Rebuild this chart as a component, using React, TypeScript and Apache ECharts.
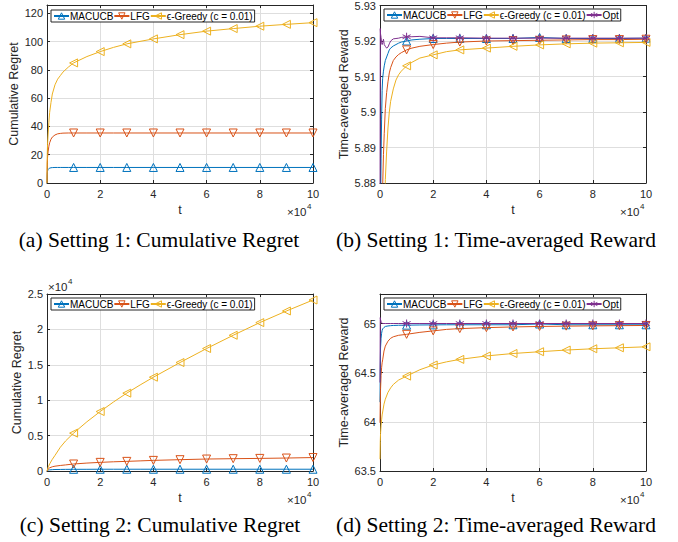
import React, { useEffect, useRef } from "react";
import * as echarts from "echarts";

// ---------- data ----------
const seriesNames = ["MACUCB", "LFG", "ϵ-Greedy (c = 0.01)", "Opt"];
const xTicks = [0, 2, 4, 6, 8, 10];

// (a) Setting 1: Cumulative Regret
const tA = [0, 0.005, 0.01, 0.02, 0.04, 0.07, 0.1, 0.15, 0.2, 0.3, 0.4, 0.5, 0.6, 0.8, 1, 1.5, 2, 2.5, 3, 4, 5, 6, 7, 8, 9, 10];
const regA_macucb = [0, 5, 7, 8.5, 9.6, 10.2, 10.5, 10.8, 10.9, 11, 11, 11, 11, 11, 11, 11, 11, 11, 11, 11, 11, 11, 11, 11, 11, 11];
const regA_lfg = [0, 9, 14, 18, 22, 26, 28.5, 31, 32.5, 34, 34.8, 35.1, 35.3, 35.4, 35.4, 35.4, 35.4, 35.4, 35.4, 35.4, 35.4, 35.4, 35.4, 35.4, 35.4, 35.4];
const regA_greedy = [0, 15, 21, 27, 34, 43, 50, 57, 63, 69.5, 73.5, 76, 78.5, 82, 85, 89.5, 93, 96, 98.5, 102, 105, 107.5, 109.3, 111, 112.3, 113.5];

// (b) Setting 1: Time-averaged Reward
const tB = [0, 0.01, 0.02, 0.04, 0.06, 0.08, 0.1, 0.13, 0.16, 0.2, 0.25, 0.3, 0.35, 0.4, 0.5, 0.6, 0.7, 0.8, 1, 1.2, 1.5, 2, 2.5, 3, 4, 5, 6, 7, 8, 9, 10];
const rewB_macucb = [5.84, 5.855, 5.872, 5.887, 5.898, 5.906, 5.9095, 5.9115, 5.913, 5.9145, 5.9155, 5.9165, 5.9175, 5.918, 5.9186, 5.919, 5.9194, 5.9197, 5.92, 5.9203, 5.9205, 5.9207, 5.9207, 5.9207, 5.9207, 5.9207, 5.921, 5.9207, 5.9207, 5.9207, 5.9208];
const rewB_lfg = [5.83, 5.838, 5.846, 5.857, 5.866, 5.873, 5.879, 5.888, 5.894, 5.901, 5.9055, 5.9085, 5.911, 5.9125, 5.9145, 5.9155, 5.9162, 5.9167, 5.9175, 5.918, 5.9185, 5.919, 5.9194, 5.9197, 5.92, 5.9201, 5.9202, 5.9203, 5.9204, 5.9204, 5.9205];
const rewB_greedy = [5.7, 5.72, 5.74, 5.77, 5.795, 5.815, 5.83, 5.85, 5.866, 5.881, 5.889, 5.8955, 5.9, 5.903, 5.9065, 5.909, 5.9105, 5.9115, 5.913, 5.914, 5.9152, 5.9161, 5.917, 5.9175, 5.918, 5.9185, 5.9189, 5.9192, 5.9194, 5.9195, 5.9196];
const rewB_opt = [5.86, 5.9235, 5.922, 5.921, 5.9195, 5.919, 5.9195, 5.9205, 5.919, 5.9185, 5.918, 5.9183, 5.9192, 5.92, 5.9206, 5.9207, 5.9208, 5.921, 5.9212, 5.9212, 5.9213, 5.9209, 5.9209, 5.9209, 5.9208, 5.9208, 5.9208, 5.9208, 5.9208, 5.9208, 5.9208];

// (c) Setting 2: Cumulative Regret (x10^4)
const tC = [0, 0.05, 0.1, 0.2, 0.3, 0.5, 0.7, 1, 1.5, 2, 2.5, 3, 3.5, 4, 5, 6, 7, 8, 9, 10];
const regC_macucb = [0, 0.012, 0.016, 0.019, 0.021, 0.022, 0.023, 0.024, 0.024, 0.025, 0.025, 0.025, 0.025, 0.025, 0.025, 0.025, 0.025, 0.025, 0.025, 0.025];
const regC_lfg = [0, 0.03, 0.045, 0.06, 0.068, 0.078, 0.086, 0.099, 0.112, 0.122, 0.13, 0.136, 0.143, 0.15, 0.16, 0.169, 0.174, 0.178, 0.183, 0.19];
const regC_greedy = [0, 0.06, 0.1, 0.165, 0.22, 0.335, 0.425, 0.535, 0.695, 0.84, 0.975, 1.1, 1.215, 1.325, 1.532, 1.73, 1.917, 2.096, 2.26, 2.415];

// (d) Setting 2: Time-averaged Reward
const tD = [0, 0.01, 0.02, 0.04, 0.06, 0.08, 0.1, 0.15, 0.2, 0.3, 0.4, 0.5, 0.7, 1, 1.5, 2, 2.5, 3, 4, 5, 6, 7, 8, 9, 10];
const rewD_macucb = [64.2, 64.55, 64.75, 64.85, 64.9, 64.93, 64.945, 64.96, 64.97, 64.975, 64.978, 64.98, 64.982, 64.983, 64.985, 64.986, 64.987, 64.987, 64.987, 64.987, 64.995, 64.987, 64.987, 64.987, 64.987];
const rewD_lfg = [63.99, 64.2, 64.33, 64.47, 64.55, 64.6, 64.63, 64.72, 64.77, 64.82, 64.85, 64.865, 64.88, 64.89, 64.91, 64.925, 64.94, 64.948, 64.958, 64.965, 64.97, 64.973, 64.976, 64.978, 64.98];
const rewD_greedy = [63.62, 63.8, 63.88, 63.96, 64.02, 64.07, 64.1, 64.18, 64.23, 64.3, 64.345, 64.38, 64.425, 64.465, 64.53, 64.578, 64.61, 64.635, 64.67, 64.695, 64.713, 64.73, 64.743, 64.753, 64.763];
const rewD_opt = [64.4, 65.06, 65.04, 65.02, 65.01, 65.005, 65.0, 65.0, 65.0, 65.0, 65.0, 65.0, 65.0, 65.0, 65.0, 65.0, 65.0, 65.0, 65.0, 65.0, 65.0, 65.0, 65.0, 65.0, 65.0];

const captions = [
  "(a) Setting 1: Cumulative Regret",
  "(b) Setting 1: Time-averaged Reward",
  "(c) Setting 2: Cumulative Regret",
  "(d) Setting 2: Time-averaged Reward",
];

// ---------- styles ----------
const COLORS = ["#0072BD", "#D95319", "#EDB120", "#7E2F8E"];
const AX = "#262626";
const GRIDC = "#dedede";
const SANS = "'Liberation Sans', Arial, Helvetica, sans-serif";
const SERIF = "'Liberation Serif', 'Times New Roman', serif";
const ASTER = "path://M5,0L5,10M0.67,2.5L9.33,7.5M0.67,7.5L9.33,2.5";
const SYMBOLS = ["triangle", "triangle", "triangle", ASTER];
const ROTS = [0, 180, 90, 0];

const GRIDS = [
  { left: 47, top: 5, width: 266, height: 178 },
  { left: 380, top: 5, width: 266, height: 178 },
  { left: 47, top: 294, width: 266, height: 177 },
  { left: 380, top: 294, width: 266, height: 177 },
];

function makeSeries(g: number, k: number, t: number[], v: number[]) {
  const c = COLORS[k];
  return {
    type: "line",
    name: seriesNames[k],
    xAxisIndex: g * 2,
    yAxisIndex: g * 2,
    symbol: SYMBOLS[k],
    symbolRotate: ROTS[k],
    symbolSize: 8,
    showSymbol: true,
    clip: true,
    data: t.map((x, i) => ({
      value: [x, v[i]],
      symbol: x >= 1 && Number.isInteger(x) ? SYMBOLS[k] : "none",
    })),
    lineStyle: { color: c, width: 1 },
    itemStyle: { color: "none", borderColor: c, borderWidth: 1 },
    emphasis: { disabled: true },
    z: 2 + k,
  };
}

export default function App() {
  const ref = useRef<HTMLDivElement>(null);
  useEffect(() => {
    if (!ref.current) return;
    const chart = echarts.init(ref.current, null, { renderer: "svg" });
    const yCfg = [
      { min: 0, max: 126, interval: 20, name: "Cumulative Regret", gap: 22 },
      { min: 5.88, max: 5.93, interval: 0.01, name: "Time-averaged Reward", gap: 26 },
      { min: 0, max: 2.5, interval: 0.5, name: "Cumulative Regret", gap: 20 },
      { min: 63.5, max: 65.3, interval: 0.5, name: "Time-averaged Reward", gap: 26 },
    ];
    const xAxis: any[] = [];
    const yAxis: any[] = [];
    GRIDS.forEach((_, g) => {
      xAxis.push({
        type: "value", gridIndex: g, min: 0, max: 10, interval: 2,
        axisLine: { show: true, onZero: false, lineStyle: { color: AX, width: 1 } },
        axisTick: { show: true, inside: true, length: 3, lineStyle: { color: AX } },
        axisLabel: { color: AX, fontSize: 11, margin: 5, fontFamily: SANS, customValues: xTicks },
        splitLine: { show: true, lineStyle: { color: GRIDC, width: 1 } },
        name: "t", nameLocation: "middle", nameGap: 20,
        nameTextStyle: { color: AX, fontSize: 12.5, fontFamily: SANS },
      });
      xAxis.push({
        type: "value", gridIndex: g, min: 0, max: 10, interval: 2, position: "top",
        axisLine: { show: true, onZero: false, lineStyle: { color: AX, width: 1 } },
        axisTick: { show: true, inside: true, length: 3, lineStyle: { color: AX } },
        axisLabel: { show: false }, splitLine: { show: false },
      });
      const y = yCfg[g];
      yAxis.push({
        type: "value", gridIndex: g, min: y.min, max: y.max, interval: y.interval,
        axisLine: { show: true, onZero: false, lineStyle: { color: AX, width: 1 } },
        axisTick: { show: true, inside: true, length: 3, lineStyle: { color: AX } },
        axisLabel: { color: AX, fontSize: 11, margin: 4, fontFamily: SANS, showMaxLabel: g === 1 || g === 2 },
        splitLine: { show: true, lineStyle: { color: GRIDC, width: 1 } },
        name: y.name, nameLocation: "middle", nameGap: y.gap, nameRotate: 90,
        nameTextStyle: { color: AX, fontSize: 12.5, fontFamily: SANS },
      });
      yAxis.push({
        type: "value", gridIndex: g, min: y.min, max: y.max, interval: y.interval, position: "right",
        axisLine: { show: true, onZero: false, lineStyle: { color: AX, width: 1 } },
        axisTick: { show: true, inside: true, length: 3, lineStyle: { color: AX } },
        axisLabel: { show: false }, splitLine: { show: false },
      });
    });

    const series = [
      makeSeries(0, 0, tA, regA_macucb),
      makeSeries(0, 1, tA, regA_lfg),
      makeSeries(0, 2, tA, regA_greedy),
      makeSeries(1, 0, tB, rewB_macucb),
      makeSeries(1, 1, tB, rewB_lfg),
      makeSeries(1, 2, tB, rewB_greedy),
      makeSeries(1, 3, tB, rewB_opt),
      makeSeries(2, 0, tC, regC_macucb),
      makeSeries(2, 1, tC, regC_lfg),
      makeSeries(2, 2, tC, regC_greedy),
      makeSeries(3, 0, tD, rewD_macucb),
      makeSeries(3, 1, tD, rewD_lfg),
      makeSeries(3, 2, tD, rewD_greedy),
      makeSeries(3, 3, tD, rewD_opt),
    ];

    const legendPos = [
      { left: 51, top: 10, n: 3 },
      { left: 384, top: 9, n: 4 },
      { left: 51, top: 298, n: 3 },
      { left: 384, top: 298, n: 4 },
    ];
    const legend = legendPos.map((p) => ({
      left: p.left, top: p.top, orient: "horizontal",
      data: seriesNames.slice(0, p.n),
      itemWidth: 15, itemHeight: 8, itemGap: 0,
      padding: [1, 2],
      backgroundColor: "#fff", borderColor: AX, borderWidth: 1,
      itemStyle: { color: "rgba(0,0,0,0)", borderWidth: 1 },
      textStyle: { fontSize: 10, color: "#000", fontFamily: SANS, padding: [0, 0, 0, -4] },
      selectedMode: false,
    }));

    const txt = (x: number, y: number, text: string, size: number, extra: any = {}) => ({
      type: "text", x, y,
      style: { text, fontSize: size, fontFamily: SANS, fill: AX, textVerticalAlign: "middle", ...extra },
    });
    const graphic: any[] = [];
    [[287, 212], [620, 212], [287, 500], [620, 500]].forEach(([x, y]) => {
      graphic.push(txt(x, y, "×10", 11.5));
      graphic.push(txt(x + 20, y - 6, "4", 8));
    });
    graphic.push(txt(48, 287, "×10", 11.5));
    graphic.push(txt(68, 281, "4", 8));
    const capPos = [[159, 240], [496, 240], [160, 525], [496, 525]];
    captions.forEach((c, i) => {
      graphic.push({
        type: "text", x: capPos[i][0], y: capPos[i][1],
        style: { text: c, fontSize: 21.5, fontFamily: SERIF, fill: "#000", textAlign: "center", textVerticalAlign: "middle" },
      });
    });

    chart.setOption({
      animation: false,
      backgroundColor: "#fff",
      grid: GRIDS.map((g) => ({ ...g, containLabel: false })),
      xAxis, yAxis, series, legend, graphic,
    });
    return () => chart.dispose();
  }, []);
  return (
    <div
      ref={ref}
      style={{ position: "fixed", left: 0, top: 0, width: 678, height: 542, background: "#fff" }}
    />
  );
}
